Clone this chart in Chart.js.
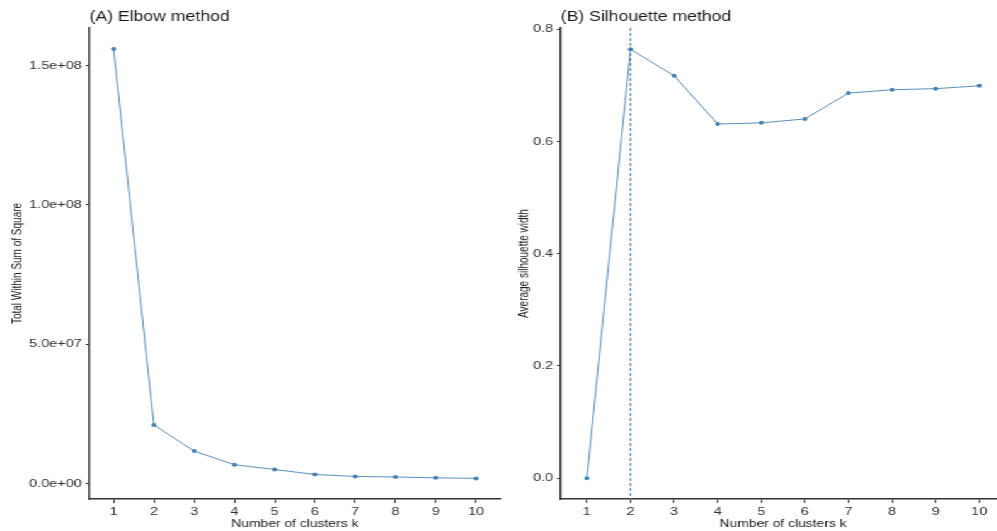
<!DOCTYPE html>
<html>
<head>
<meta charset="utf-8">
<script src="https://cdn.jsdelivr.net/npm/chart.js@4"></script>
<style>
  body { margin: 0; background: #fff; }
  #wrap { position: relative; width: 997px; height: 531px; overflow: hidden; background: #fff; }
  /* the source picture is stretched sideways, so draw narrow and stretch */
  #stage { position: absolute; left: 0; top: 0; width: 810px; height: 531px; transform: scaleX(1.26); transform-origin: 0 0; }
  canvas { position: absolute; top: 0; }
</style>
</head>
<body>
<div id="wrap">
  <div id="stage">
    <canvas id="elbowChart" width="401" height="531" style="left:0"></canvas>
    <canvas id="silChart" width="406" height="531" style="left:397px"></canvas>
  </div>
</div>
<script>
// values
const kValues = [1, 2, 3, 4, 5, 6, 7, 8, 9, 10];
const wssValues = [156e6, 21.0e6, 11.6e6, 6.7e6, 5.0e6, 3.2e6, 2.5e6, 2.3e6, 2.0e6, 1.8e6];
const silValues = [0, 0.764, 0.717, 0.631, 0.633, 0.640, 0.686, 0.692, 0.694, 0.699];
const wssTicks = [0, 5e7, 1e8, 1.5e8];
const silTicks = [0, 0.2, 0.4, 0.6, 0.8];
const optimalK = 2;

const lineColor = '#4682B4';
const axisColor = '#333333';
const tickText = '#333333';
const titleText = '#1a1a1a';
const font = "'Liberation Sans', Arial, sans-serif";

// R style scientific labels: 1.5e+08
function sci(v) {
    if (v === 0) return '0.0e+00';
    const exp = Math.floor(Math.log10(Math.abs(v)));
    const mant = v / Math.pow(10, exp);
    return mant.toFixed(1) + 'e+' + String(exp).padStart(2, '0');
}

const panelTitle = {
    id: 'panelTitle',
    afterDraw(chart, args, opts) {
        const ctx = chart.ctx;
        ctx.save();
        ctx.font = '14px ' + font;
        ctx.fillStyle = titleText;
        ctx.textBaseline = 'alphabetic';
        ctx.fillText(opts.text, chart.chartArea.left, 21);
        ctx.restore();
    }
};

const vline = {
    id: 'vline',
    beforeDatasetsDraw(chart, args, opts) {
        if (opts.value == null) return;
        const x = chart.scales.x.getPixelForValue(opts.value);
        const ctx = chart.ctx;
        ctx.save();
        ctx.strokeStyle = lineColor;
        ctx.lineWidth = 1.1;
        ctx.setLineDash([3, 2]);
        ctx.beginPath();
        ctx.moveTo(x, chart.chartArea.top);
        ctx.lineTo(x, chart.chartArea.bottom);
        ctx.stroke();
        ctx.restore();
    }
};

function makeChart(id, opts) {
    const ctx = document.getElementById(id).getContext('2d');
    return new Chart(ctx, {
        type: 'line',
        data: {
            datasets: [{
                data: kValues.map((k, i) => ({ x: k, y: opts.values[i] })),
                borderColor: lineColor,
                backgroundColor: lineColor,
                borderWidth: 0.9,
                pointRadius: 2,
                pointBorderWidth: 0,
                tension: 0
            }]
        },
        options: {
            responsive: false,
            animation: false,
            devicePixelRatio: 1,
            layout: { padding: { top: 28, right: opts.padRight, bottom: 0, left: 0 } },
            plugins: {
                legend: { display: false },
                tooltip: { enabled: false },
                panelTitle: { text: opts.title },
                vline: { value: opts.vline }
            },
            scales: {
                x: {
                    type: 'linear',
                    min: 0.4,
                    max: 10.6,
                    afterBuildTicks: s => { s.ticks = kValues.map(v => ({ value: v })); },
                    afterFit: s => { s.height = 32; },
                    grid: { drawOnChartArea: false, tickLength: 4, color: axisColor, tickWidth: 1 },
                    border: { color: axisColor, width: 1.5 },
                    ticks: { color: tickText, font: { family: font, size: 11.5 }, padding: 2, maxRotation: 0 },
                    title: { display: true, text: 'Number of clusters k', color: titleText,
                             font: { family: font, size: 11 }, padding: { top: 2, bottom: 0 } }
                },
                y: {
                    min: opts.yMin,
                    max: opts.yMax,
                    afterBuildTicks: s => { s.ticks = opts.ticks.map(v => ({ value: v })); },
                    afterFit: s => { s.width = opts.yWidth; },
                    grid: { drawOnChartArea: false, tickLength: 3, color: axisColor, tickWidth: 1 },
                    border: { color: axisColor, width: 1.5 },
                    ticks: { color: tickText, font: { family: font, size: 11.5 }, padding: 3,
                             callback: opts.fmt },
                    title: { display: true, text: opts.yTitle, color: titleText,
                             font: { family: font, size: 10 },
                             padding: { top: opts.yTitlePad, bottom: 0 } }
                }
            }
        },
        plugins: [panelTitle, vline]
    });
}

makeChart('elbowChart', {
    values: wssValues,
    title: '(A) Elbow method',
    yTitle: 'Total Within Sum of Square',
    yMin: -5.6e6,
    yMax: 163.5e6,
    ticks: wssTicks,
    fmt: v => sci(v),
    yWidth: 71,
    yTitlePad: 8,
    padRight: 3,
    vline: null
});

makeChart('silChart', {
    values: silValues,
    title: '(B) Silhouette method',
    yTitle: 'Average silhouette width',
    yMin: -0.037,
    yMax: 0.802,
    ticks: silTicks,
    fmt: v => v.toFixed(1),
    yWidth: 48,
    yTitlePad: 13,
    padRight: 5,
    vline: optimalK
});
</script>
</body>
</html>
